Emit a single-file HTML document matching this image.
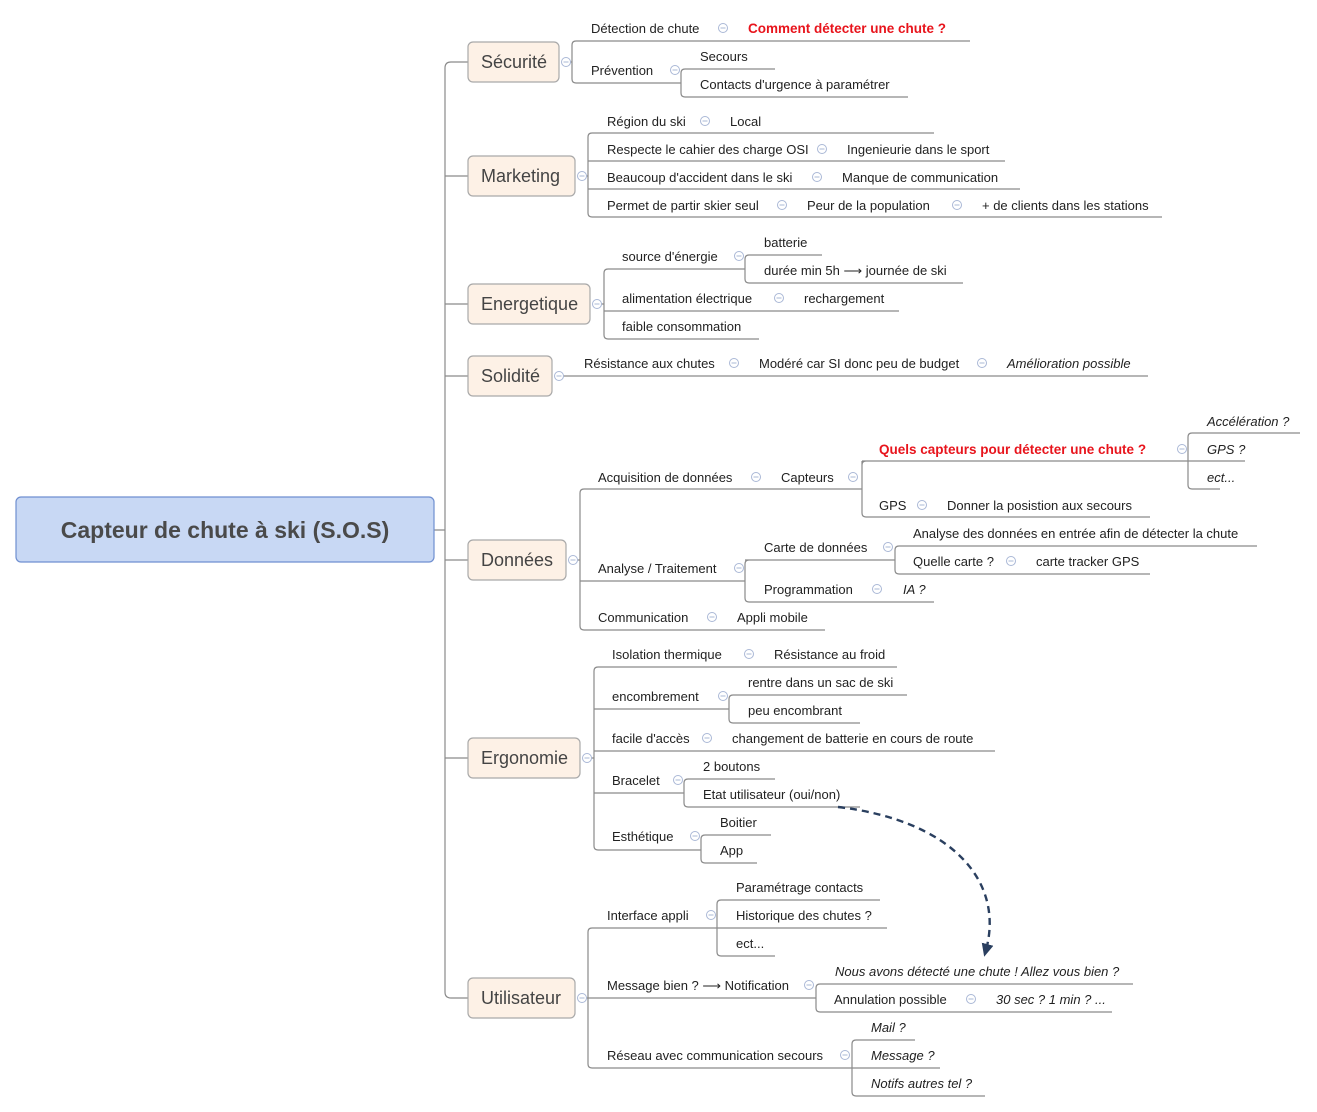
<!DOCTYPE html>
<html><head><meta charset="utf-8"><style>
html,body{margin:0;padding:0;background:#fff}
svg{display:block}
text{font-family:"Liberation Sans",sans-serif;font-size:13px;fill:#222}
.i{font-style:italic}
.r{fill:#e8141c;font-weight:bold;font-size:13.5px}
.n{font-size:18px;fill:#444}
.l{stroke:#8a8a8a;stroke-width:1.2;fill:none}
.c{fill:#fff;stroke:#aab8d6;stroke-width:1}
.m{stroke:#aab8d6;stroke-width:1}
</style></head><body>
<svg width="1317" height="1112" viewBox="0 0 1317 1112" xmlns="http://www.w3.org/2000/svg">
<defs>
<g id="ci"><circle class="c" cx="0" cy="0" r="4.5"/><line class="m" x1="-2.5" y1="0" x2="2.5" y2="0"/></g>
<marker id="ar" markerWidth="14" markerHeight="14" refX="6" refY="7" orient="auto" markerUnits="userSpaceOnUse"><path d="M0,1 L13,7 L0,13 Z" fill="#2a3f5f"/></marker>
</defs>

<!-- trunk -->
<path class="l" d="M434,530 H445 M468,62 H451 Q445,62 445,68 V992 Q445,998 451,998 H468 M445,176 H468 M445,304 H468 M445,376 H468 M445,560 H468 M445,758 H468"/>
<rect x="16" y="497" width="418" height="65" rx="5" fill="#c8d8f4" stroke="#6f8fd0" stroke-width="1.2"/>
<text x="225" y="538" text-anchor="middle" style="font-size:23px;font-weight:bold;fill:#4a4a4a">Capteur de chute à ski (S.O.S)</text>

<!-- level1 nodes -->
<g fill="#fdf1e6" stroke="#a9a9a9" stroke-width="1.2">
<rect x="468" y="42" width="91" height="40" rx="5"/>
<rect x="468" y="156" width="107" height="40" rx="5"/>
<rect x="468" y="284" width="122" height="40" rx="5"/>
<rect x="468" y="356" width="84" height="40" rx="5"/>
<rect x="468" y="540" width="98" height="40" rx="5"/>
<rect x="468" y="738" width="112" height="40" rx="5"/>
<rect x="468" y="978" width="107" height="40" rx="5"/>
</g>
<text class="n" x="481" y="68">Sécurité</text>
<text class="n" x="481" y="182">Marketing</text>
<text class="n" x="481" y="310">Energetique</text>
<text class="n" x="481" y="382">Solidité</text>
<text class="n" x="481" y="566">Données</text>
<text class="n" x="481" y="764">Ergonomie</text>
<text class="n" x="481" y="1004">Utilisateur</text>

<!-- lines -->
<path class="l" d="
M570,62 H572 M970,41 H576 Q572,41 572,45 V79 Q572,83 576,83 H681 M775,69 H685 Q681,69 681,73 V93 Q681,97 685,97 H908
M586,176 H588 M934,133 H592 Q588,133 588,137 V213 Q588,217 592,217 H1162 M588,161 H1005 M588,189 H1020
M601,304 H604 M745,269 H608 Q604,269 604,273 V335 Q604,339 608,339 H759 M604,311 H899 M822,255 H749 Q745,255 745,259 V279 Q745,283 749,283 H963
M563,376 H1148
M577,560 H580 M862,489 H584 Q580,489 580,493 V626 Q580,630 584,630 H825 M580,581 H745
M862,461 V513 Q862,517 866,517 H1150 M866,461 Q862,461 862,465 M862,461 H1188 M1300,433 H1192 Q1188,433 1188,437 V485 Q1188,489 1192,489 H1220 M1188,461 H1245
M749,560 Q745,560 745,564 V598 Q745,602 749,602 H934 M745,560 H895 M1257,546 H899 Q895,546 895,550 V570 Q895,574 899,574 H1150
M591,758 H594 M897,667 H598 Q594,667 594,671 V846 Q594,850 598,850 H701 M594,709 H729 M594,751 H995 M594,793 H684
M907,695 H733 Q729,695 729,699 V719 Q729,723 733,723 H860
M775,779 H688 Q684,779 684,783 V803 Q684,807 688,807 H860
M771,835 H705 Q701,835 701,839 V859 Q701,863 705,863 H757
M586,998 H588 M717,928 H592 Q588,928 588,932 V1064 Q588,1068 592,1068 H852 M588,998 H816
M880,900 H721 Q717,900 717,904 V952 Q717,956 721,956 H775 M717,928 H887
M1133,984 H820 Q816,984 816,988 V1008 Q816,1012 820,1012 H1112
M915,1040 H856 Q852,1040 852,1044 V1092 Q852,1096 856,1096 H985 M852,1068 H940
"/>

<!-- collapse circles -->
<use href="#ci" x="566" y="62"/><use href="#ci" x="723" y="28"/><use href="#ci" x="675" y="70"/>
<use href="#ci" x="582" y="176"/><use href="#ci" x="705" y="121"/><use href="#ci" x="822" y="149"/><use href="#ci" x="817" y="177"/><use href="#ci" x="782" y="205"/><use href="#ci" x="957" y="205"/>
<use href="#ci" x="597" y="304"/><use href="#ci" x="739" y="256"/><use href="#ci" x="779" y="298"/>
<use href="#ci" x="559" y="376"/><use href="#ci" x="734" y="363"/><use href="#ci" x="982" y="363"/>
<use href="#ci" x="573" y="560"/><use href="#ci" x="756" y="477"/><use href="#ci" x="853" y="477"/><use href="#ci" x="1182" y="449"/><use href="#ci" x="922" y="505"/><use href="#ci" x="739" y="568"/><use href="#ci" x="888" y="547"/><use href="#ci" x="1011" y="561"/><use href="#ci" x="877" y="589"/><use href="#ci" x="712" y="617"/>
<use href="#ci" x="587" y="758"/><use href="#ci" x="749" y="654"/><use href="#ci" x="723" y="696"/><use href="#ci" x="707" y="738"/><use href="#ci" x="678" y="780"/><use href="#ci" x="695" y="836"/>
<use href="#ci" x="582" y="998"/><use href="#ci" x="711" y="915"/><use href="#ci" x="809" y="985"/><use href="#ci" x="971" y="999"/><use href="#ci" x="845" y="1055"/>

<!-- texts -->
<text x="591" y="33">Détection de chute</text><text class="r" x="748" y="33">Comment détecter une chute ?</text>
<text x="591" y="75">Prévention</text><text x="700" y="61">Secours</text><text x="700" y="89">Contacts d'urgence à paramétrer</text>

<text x="607" y="126">Région du ski</text><text x="730" y="126">Local</text>
<text x="607" y="154">Respecte le cahier des charge OSI</text><text x="847" y="154">Ingenieurie dans le sport</text>
<text x="607" y="182">Beaucoup d'accident dans le ski</text><text x="842" y="182">Manque de communication</text>
<text x="607" y="210">Permet de partir skier seul</text><text x="807" y="210">Peur de la population</text><text x="982" y="210">+ de clients dans les stations</text>

<text x="622" y="261">source d'énergie</text><text x="764" y="247">batterie</text><text x="764" y="275">durée min 5h ⟶ journée de ski</text>
<text x="622" y="303">alimentation électrique</text><text x="804" y="303">rechargement</text>
<text x="622" y="331">faible consommation</text>

<text x="584" y="368">Résistance aux chutes</text><text x="759" y="368">Modéré car SI donc peu de budget</text><text class="i" x="1007" y="368">Amélioration possible</text>

<text x="598" y="482">Acquisition de données</text><text x="781" y="482">Capteurs</text>
<text class="r" x="879" y="454">Quels capteurs pour détecter une chute ?</text>
<text class="i" x="1207" y="426">Accélération ?</text><text class="i" x="1207" y="454">GPS ?</text><text class="i" x="1207" y="482">ect...</text>
<text x="879" y="510">GPS</text><text x="947" y="510">Donner la posistion aux secours</text>
<text x="598" y="573">Analyse / Traitement</text>
<text x="764" y="552">Carte de données</text>
<text x="913" y="538">Analyse des données en entrée afin de détecter la chute</text>
<text x="913" y="566">Quelle carte ?</text><text x="1036" y="566">carte tracker GPS</text>
<text x="764" y="594">Programmation</text><text class="i" x="903" y="594">IA ?</text>
<text x="598" y="622">Communication</text><text x="737" y="622">Appli mobile</text>

<text x="612" y="659">Isolation thermique</text><text x="774" y="659">Résistance au froid</text>
<text x="612" y="701">encombrement</text><text x="748" y="687">rentre dans un sac de ski</text><text x="748" y="715">peu encombrant</text>
<text x="612" y="743">facile d'accès</text><text x="732" y="743">changement de batterie en cours de route</text>
<text x="612" y="785">Bracelet</text><text x="703" y="771">2 boutons</text><text x="703" y="799">Etat utilisateur (oui/non)</text>
<text x="612" y="841">Esthétique</text><text x="720" y="827">Boitier</text><text x="720" y="855">App</text>

<text x="607" y="920">Interface appli</text><text x="736" y="892">Paramétrage contacts</text><text x="736" y="920">Historique des chutes ?</text><text x="736" y="948">ect...</text>
<text x="607" y="990">Message bien ? ⟶ Notification</text>
<text class="i" x="835" y="976">Nous avons détecté une chute ! Allez vous bien ?</text>
<text x="834" y="1004">Annulation possible</text><text class="i" x="996" y="1004">30 sec ? 1 min ? ...</text>
<text x="607" y="1060">Réseau avec communication secours</text>
<text class="i" x="871" y="1032">Mail ?</text><text class="i" x="871" y="1060">Message ?</text><text class="i" x="871" y="1088">Notifs autres tel ?</text>

<!-- dashed arrow -->
<path d="M838,807 C950,820 1005,880 986,950" fill="none" stroke="#2a3f5f" stroke-width="2.4" stroke-dasharray="7,5" marker-end="url(#ar)"/>
</svg>
</body></html>
